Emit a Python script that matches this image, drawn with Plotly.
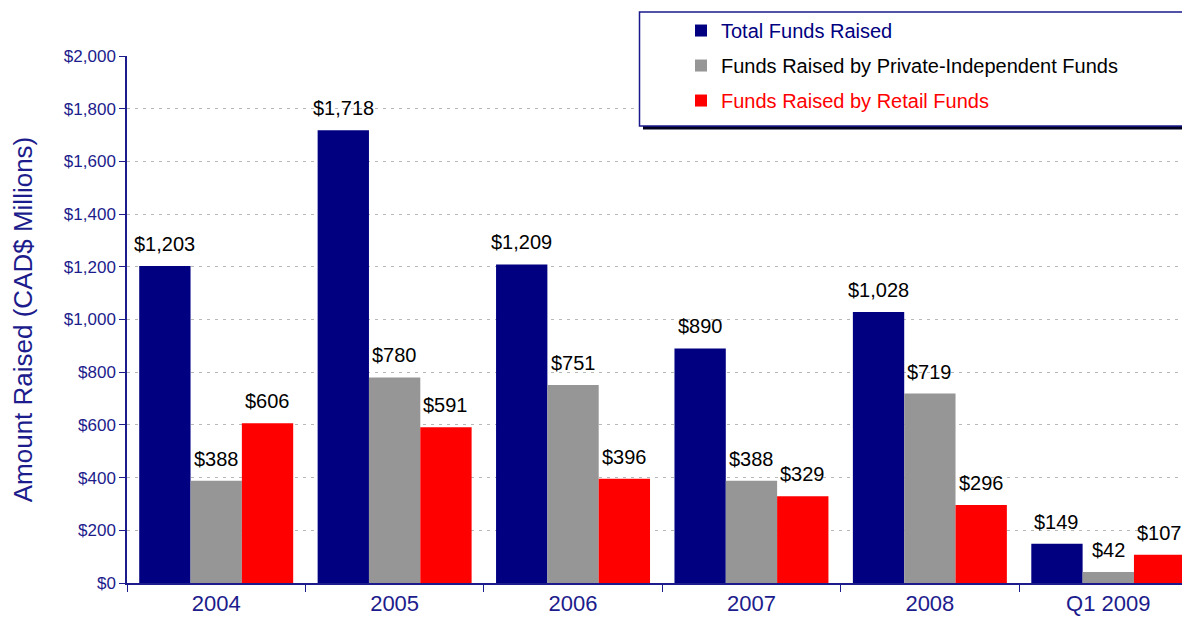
import plotly.graph_objects as go

categories = ["2004", "2005", "2006", "2007", "2008", "Q1 2009"]
total_funds = [1203, 1718, 1209, 890, 1028, 149]
private_funds = [388, 780, 751, 388, 719, 42]
retail_funds = [606, 591, 396, 329, 296, 107]
series_names = ["Total Funds Raised",
                "Funds Raised by Private-Independent Funds",
                "Funds Raised by Retail Funds"]
series_colors = ["#000080", "#969696", "#FF0000"]
legend_text_colors = ["#000080", "#000000", "#FF0000"]
y_ticks = [0, 200, 400, 600, 800, 1000, 1200, 1400, 1600, 1800, 2000]
y_tick_labels = [f"${v:,}" for v in y_ticks]

FONT = "Liberation Sans, Arial, sans-serif"
NAVY = "#1c1c8c"

# page is offset by the 8px body margin of the html page
OFF = 8
W, H = 1190 - OFF, 631 - OFF
L, R, T, B = 127 - OFF, 0, 56 - OFF, 631 - 583.3
pw, ph = W - L - R, H - T - B
X_RANGE = [-0.5, 5.458]
BARGAP = 0.137
cat_px = pw / (X_RANGE[1] - X_RANGE[0])
bar_px = cat_px * (1 - BARGAP) / 3


def px_x(x):  # page x -> paper
    return (x - OFF - L) / pw


def px_y(y):  # page y -> paper
    return (H + OFF - B - y) / ph


fig = go.Figure()
all_series = [total_funds, private_funds, retail_funds]
for i, (vals, name, col, tcol) in enumerate(zip(all_series, series_names,
                                                 series_colors, legend_text_colors)):
    fig.add_trace(go.Bar(
        x=categories, y=vals,
        name=f"<span style='color:{tcol}'>{name}</span>",
        legendgroup=f"g{i}",
        marker=dict(color=col, line=dict(width=0)),
    ))
    for j, v in enumerate(vals):
        fig.add_annotation(
            x=j, y=v, xref="x", yref="y", text=f"${v:,}", showarrow=False,
            xanchor="center", yanchor="bottom", xshift=(i - 1) * bar_px, yshift=9,
            font=dict(family=FONT, size=20, color="#000000"),
        )

# legend box with shadow
fig.add_shape(type="rect", xref="paper", yref="paper",
              x0=px_x(643), x1=px_x(1200), y0=px_y(129.5), y1=px_y(16),
              fillcolor="#000020", line=dict(width=0), layer="above")
fig.add_shape(type="rect", xref="paper", yref="paper",
              x0=px_x(639.5), x1=px_x(1196), y0=px_y(126), y1=px_y(12),
              fillcolor="white", line=dict(color="#1a1a8c", width=1.5), layer="above")

fig.update_layout(
    width=W, height=H,
    margin=dict(l=L, r=R, t=T, b=B, autoexpand=False),
    plot_bgcolor="white", paper_bgcolor="white",
    barmode="group", bargap=BARGAP, bargroupgap=0,
    showlegend=True,
    legend=dict(x=px_x(681), y=px_y(11), xanchor="left", yanchor="top",
                bgcolor="rgba(0,0,0,0)", borderwidth=0,
                font=dict(family=FONT, size=20, color="#000000"),
                tracegroupgap=6, itemwidth=30),
    font=dict(family=FONT),
)
fig.update_xaxes(
    type="category", range=X_RANGE, showline=True, linecolor=NAVY, linewidth=1.5,
    ticks="outside", tickson="boundaries", ticklen=7, tickcolor=NAVY,
    tickfont=dict(family=FONT, size=22, color=NAVY), showgrid=False,
)
fig.update_yaxes(
    range=[0, 2000], tickvals=y_ticks, ticktext=y_tick_labels,
    showline=True, linecolor=NAVY, linewidth=1.5,
    ticks="outside", ticklen=6, tickcolor=NAVY,
    tickfont=dict(family=FONT, size=17, color=NAVY),
    showgrid=True, gridcolor="#b8b8b8", griddash="3px,5px", gridwidth=1,
    zeroline=False,
    title=dict(text="Amount Raised (CAD$ Millions)",
               font=dict(family=FONT, size=26, color=NAVY), standoff=24),
)

fig.write_html("out.html")
